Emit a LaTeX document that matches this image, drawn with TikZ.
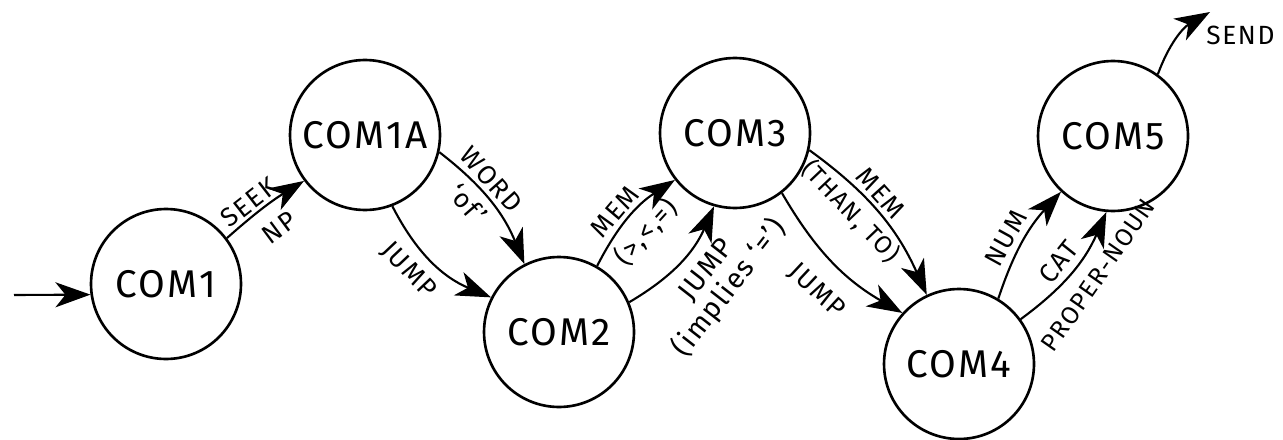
\documentclass[tikz,border=0pt]{standalone}
\usepackage{fontspec}
\setmainfont{Fira Sans}[LetterSpace=6]
\usetikzlibrary{arrows.meta}
\begin{document}
\begin{tikzpicture}[x=0.02cm,y=0.02cm,
  stnode/.style={circle, draw, line width=1.5pt, minimum size=3cm, inner sep=0pt,
                 font=\fontsize{22}{26}\selectfont},
  trans/.style={line width=1.2pt, -{Stealth[length=7mm,width=5mm,inset=2mm]}},
  lab/.style={font=\fontsize{15}{16}\selectfont, sloped, inner sep=1.5pt},
]
\useasboundingbox (0,0) rectangle (1283,-439);

% states of the network
\node[stnode] (com1)  at (166,-284)  {COM1};
\node[stnode] (com1a) at (365,-135)  {COM1A};
\node[stnode] (com2)  at (559,-332)  {COM2};
\node[stnode] (com3)  at (735,-133)  {COM3};
\node[stnode] (com4)  at (959,-364)  {COM4};
\node[stnode] (com5)  at (1113,-136) {COM5};

% entry and exit
\coordinate (entry) at (14,-295);
\coordinate (sendtip) at (1210,-12);
\node[font=\fontsize{15}{17}\selectfont, anchor=west, inner sep=0pt] (send) at (1206,-35) {SEND};

\draw[trans] (entry) -- (com1.188);

% transitions
\draw[trans] (com1.37) to[bend left=5]
  node[lab, above, pos=0.4] {SEEK}
  node[lab, below=7pt, pos=0.5] {NP} (com1a.217);

\draw[trans] (com1a.-13) to[bend left=15]
  node[lab, above=1pt, pos=0.38] {WORD}
  node[lab, below=3pt, pos=0.4] {`of'} (com2.117);

\draw[trans] (com1a.-69) to[bend right=20]
  node[lab, below=5pt, pos=0.42] {JUMP} (com2.153);

\draw[trans] (com2.60) to[bend left=15]
  node[lab, above=1pt, pos=0.45] {MEM}
  node[lab, below=3pt, pos=0.5] {(>,<,=)} (com3.218);

\draw[trans] (com2.23) to[bend right=18]
  node[lab, below=6pt, pos=0.58, align=center, font=\fontsize{16}{15}\selectfont]
  {JUMP\\(implies `=')} (com3.254);

\draw[trans] (com3.-13) to[bend left=15]
  node[lab, above=1pt, pos=0.42] {MEM}
  node[lab, below=2pt, pos=0.38, font=\fontsize{14}{15}\selectfont] {(THAN, TO)} (com4.115);

\draw[trans] (com3.-52) to[bend right=15]
  node[lab, below=10pt, pos=0.55] {JUMP} (com4.138);

\draw[trans] (com4.59) to[bend left=12]
  node[lab, above=2pt, pos=0.45] {NUM} (com5.227);

\draw[trans] (com4.36) to[bend right=15]
  node[lab, above=2pt, pos=0.5] {CAT}
  node[lab, below=6pt, pos=0.6, font=\fontsize{14}{15}\selectfont] {PROPER-NOUN} (com5.265);

\draw[trans] (com5.54) to[bend left=20] (sendtip);
\end{tikzpicture}
\end{document}
